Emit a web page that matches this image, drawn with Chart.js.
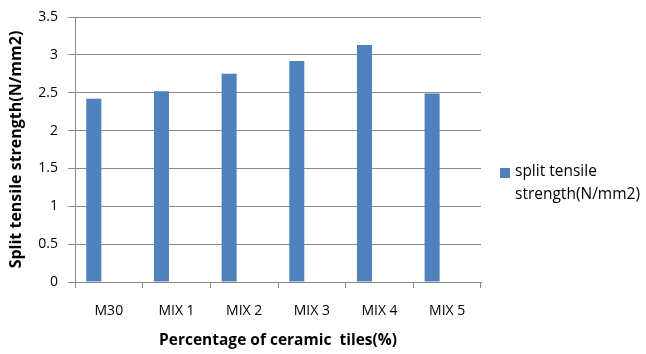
<!DOCTYPE html>
<html>
<head>
<meta charset="utf-8">
<script src="https://cdn.jsdelivr.net/npm/chart.js@4/dist/chart.umd.min.js"></script>
<style>
  html, body { margin: 0; background: #fff; }
  #wrap { width: 646px; height: 354px; }
</style>
</head>
<body>
<div id="wrap"><canvas id="mainChart"></canvas></div>
<script>
const categories = ["M30", "MIX 1", "MIX 2", "MIX 3", "MIX 4", "MIX 5"];
const strength = [2.42, 2.52, 2.75, 2.92, 3.13, 2.49];
const yMax = 3.5;
const yStep = 0.5;
const seriesName = "split tensile strength(N/mm2)";
const xTitle = "Percentage of ceramic  tiles(%)";
const yTitle = "Split tensile strength(N/mm2)";

const FONT = "Open Sans";
const GRID = "#8a8a8a";
const BAR = "#4f81bd";

// legend on the right, wrapped onto two lines like the spreadsheet one
const sideLegend = {
  id: "sideLegend",
  afterDraw(chart) {
    const { ctx, chartArea } = chart;
    const x = chartArea.right + 19;
    const y = chartArea.top + 151;
    ctx.save();
    ctx.fillStyle = BAR;
    ctx.fillRect(x, y, 10, 10);
    ctx.font = "15.5px " + FONT;
    ctx.fillStyle = "#000";
    ctx.textBaseline = "middle";
    const words = chart.data.datasets[0].label.split(" ");
    const lines = [words.slice(0, 2).join(" "), words.slice(2).join(" ")];
    lines.forEach((t, i) => ctx.fillText(t, x + 15, y + 4 + i * 23));
    ctx.restore();
  }
};

// two blank slots per category keep the bar on the left of its group
const blank = categories.map(() => null);

new Chart(document.getElementById("mainChart"), {
  type: "bar",
  data: {
    labels: categories,
    datasets: [
      { label: seriesName, data: strength, backgroundColor: BAR },
      { label: "", data: blank },
      { label: "", data: blank }
    ]
  },
  options: {
    responsive: true,
    maintainAspectRatio: false,
    animation: false,
    categoryPercentage: 3 / 4.5,
    barPercentage: 1,
    layout: { padding: { top: 0, right: 165, left: 0, bottom: 0 } },
    plugins: { legend: { display: false }, tooltip: { enabled: false } },
    scales: {
      x: {
        grid: { drawOnChartArea: false, color: GRID, tickLength: 6 },
        border: { color: GRID },
        ticks: { color: "#000", font: { family: FONT, size: 14 }, padding: 15 },
        title: { display: true, text: xTitle, color: "#000", font: { family: FONT, size: 15.5, weight: "bold" }, padding: { top: 4, bottom: 4 } },
        afterFit(scale) { scale.height = 72; }
      },
      y: {
        min: 0,
        max: yMax,
        grid: { color: GRID, tickLength: 7 },
        border: { color: GRID },
        ticks: { stepSize: yStep, color: "#000", font: { family: FONT, size: 14, lineHeight: 1 }, padding: 10, callback: v => String(v) },
        title: { display: true, text: yTitle, color: "#000", font: { family: FONT, size: 16, weight: "bold" }, padding: { top: 7, bottom: 8 } },
        afterFit(scale) { scale.width = 75; }
      }
    }
  },
  plugins: [sideLegend]
});
</script>
</body>
</html>
